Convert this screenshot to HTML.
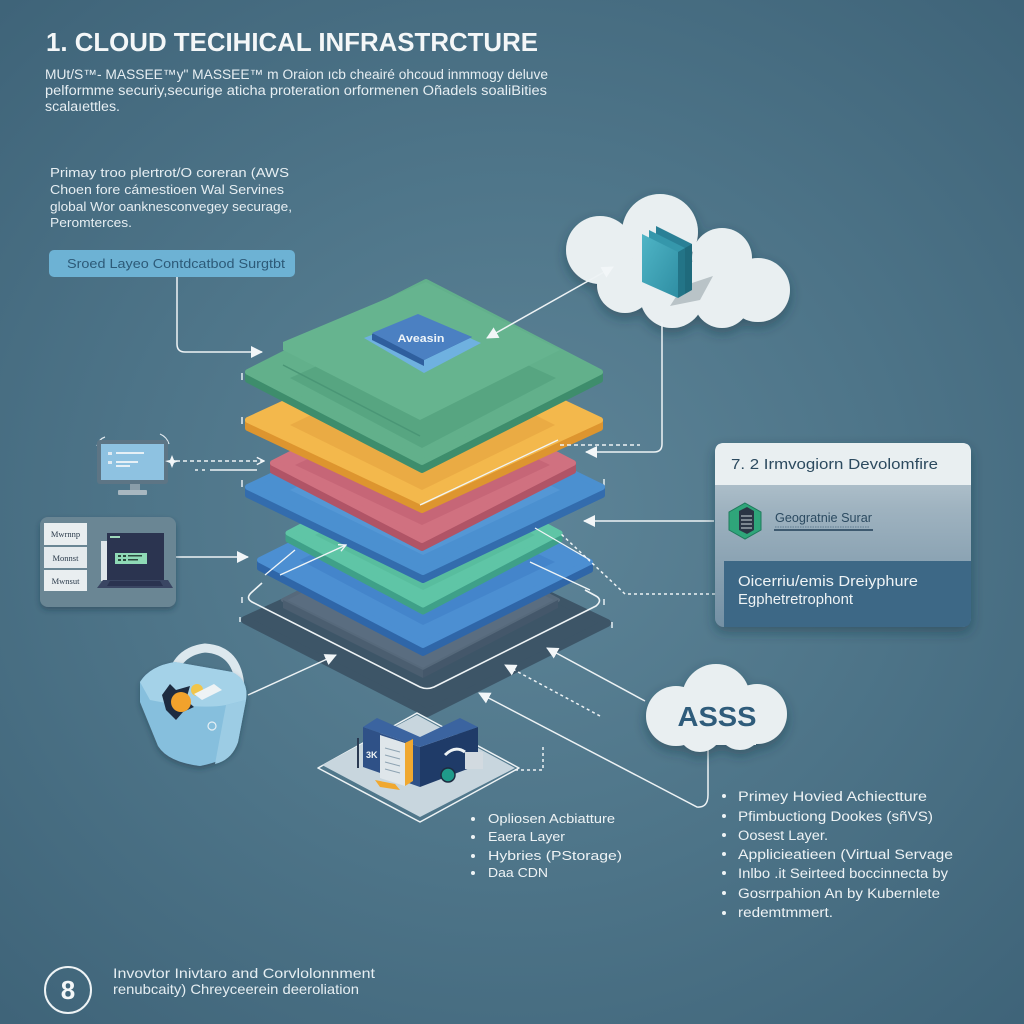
<!DOCTYPE html>
<html><head><meta charset="utf-8"><style>
html,body{margin:0;padding:0;}
body{width:1024px;height:1024px;overflow:hidden;background:radial-gradient(ellipse 72% 68% at 50% 50%,#5e8598 0%,#4e7589 50%,#3f6479 100%);font-family:"Liberation Sans",sans-serif;}
svg{position:absolute;left:0;top:0;}
</style></head><body>
<svg width="1024" height="1024" viewBox="0 0 1024 1024" xmlns="http://www.w3.org/2000/svg">
<defs>
<marker id="ah" viewBox="0 0 12 12" refX="11" refY="6" markerWidth="12" markerHeight="12" markerUnits="userSpaceOnUse" orient="auto-start-reverse"><path d="M0,0 L12,6 L0,12 z" fill="#f2f6f8"/></marker>
<marker id="ao" viewBox="0 0 10 10" refX="9" refY="5" markerWidth="9" markerHeight="9" markerUnits="userSpaceOnUse" orient="auto"><path d="M1,1 L9,5 L1,9" fill="none" stroke="#f2f6f8" stroke-width="1.5"/></marker>
<filter id="sh" x="-20%" y="-20%" width="140%" height="150%"><feDropShadow dx="0" dy="5" stdDeviation="6" flood-color="#1d3140" flood-opacity="0.45"/></filter>
<filter id="sh2" x="-20%" y="-20%" width="140%" height="150%"><feDropShadow dx="0" dy="3" stdDeviation="3" flood-color="#1d3140" flood-opacity="0.4"/></filter>
<linearGradient id="pmid" x1="0" y1="0" x2="0" y2="1"><stop offset="0" stop-color="#c3d1d9"/><stop offset="0.35" stop-color="#9fb3c0"/><stop offset="1" stop-color="#7390a4"/></linearGradient>
<linearGradient id="plate" x1="0" y1="0" x2="1" y2="1"><stop offset="0" stop-color="#4fb5c6"/><stop offset="1" stop-color="#2f8ea3"/></linearGradient>
</defs>

<!-- Title -->
<text x="46" y="51" font-size="26" font-weight="bold" fill="#f4f7f8" textLength="492" lengthAdjust="spacingAndGlyphs">1. CLOUD TECIHICAL INFRASTRCTURE</text>
<g fill="#e6eef2" font-size="13.5">
<text x="45" y="79" textLength="503" lengthAdjust="spacingAndGlyphs">MUt/S™- MASSEE™y" MASSEE™ m Oraion ıcb cheairé ohcoud inmmogy deluve</text>
<text x="45" y="95" textLength="502" lengthAdjust="spacingAndGlyphs">pelformme securiy,securige aticha proteration orformenen Oñadels soaliBities</text>
<text x="45" y="111" textLength="75" lengthAdjust="spacingAndGlyphs">scalaıettles.</text>
</g>
<g fill="#e6eef2" font-size="13">
<text x="50" y="177" textLength="239" lengthAdjust="spacingAndGlyphs">Primay troo plertrot/O coreran (AWS</text>
<text x="50" y="194" textLength="234" lengthAdjust="spacingAndGlyphs">Choen fore cámestioen Wal Servines</text>
<text x="50" y="211" textLength="242" lengthAdjust="spacingAndGlyphs">global Wor oanknesconvegey securage,</text>
<text x="50" y="227" textLength="82" lengthAdjust="spacingAndGlyphs">Peromterces.</text>
</g>
<rect x="49" y="250" width="246" height="27" rx="5" fill="#6db2d4"/>
<text x="67" y="268" font-size="13" fill="#2d5a78" textLength="218" lengthAdjust="spacingAndGlyphs">Sroed Layeo  Contdcatbod Surgtbt</text>
<path d="M177,277 V344 Q177,352 185,352 H262" fill="none" stroke="#eef3f5" stroke-width="1.5" marker-end="url(#ah)"/>

<!-- ticks -->
<g stroke="#e6eef2" stroke-width="1.5">
<line x1="242" y1="373" x2="242" y2="380"/><line x1="242" y1="417" x2="242" y2="424"/><line x1="242" y1="480" x2="242" y2="487"/>
<line x1="242" y1="597" x2="242" y2="603"/><line x1="240" y1="617" x2="240" y2="622"/>
<line x1="604" y1="479" x2="604" y2="486"/><line x1="604" y1="599" x2="604" y2="605"/><line x1="612" y1="622" x2="612" y2="628"/>
</g>

<!-- Stack -->
<g stroke-linejoin="round">
<polygon points="245,620 427,537 607,623 427,713" fill="#3d5567" stroke="#3d5567" stroke-width="8"/>
<polygon points="283,600 423,530 558,600 423,670" fill="#5a6d80" stroke="#56697b" stroke-width="4"/>
<polygon points="283,600 423,670 423,678 283,608" fill="#4b5e70"/>
<polygon points="423,670 558,600 558,608 423,678" fill="#44576a"/>
<path d="M262,583 L252,592 Q245,598 252,602 L420,687 Q427,690 434,687 L596,606 Q603,600 596,596 L585,590" fill="none" stroke="#eef3f5" stroke-width="1.6"/>

<polygon points="260,560 423,645 590,562 590,570 423,653 260,568" fill="#2f66a8" stroke="#2f66a8" stroke-width="6"/>
<polygon points="260,560 427,477 590,562 423,645" fill="#4c8fd2" stroke="#4c8fd2" stroke-width="6"/>
<polygon points="300,560 425,500 555,562 423,625" fill="#3f7ec6" opacity="0.6"/>
<polygon points="288,533 423,605 560,533 560,540 423,612 288,540" fill="#3fa088" stroke="#3fa088" stroke-width="5"/>
<polygon points="288,533 425,461 560,533 423,605" fill="#5fc5a6" stroke="#5fc5a6" stroke-width="5"/>
<polygon points="315,535 425,480 535,535 423,590" fill="#52b596" opacity="0.5"/>
<polygon points="248,487 423,572 602,487 602,495 423,580 248,495" fill="#336cad" stroke="#336cad" stroke-width="6"/>
<polygon points="248,487 427,402 602,487 423,572" fill="#4b90d0" stroke="#4b90d0" stroke-width="6"/>
<polygon points="290,490 425,425 560,490 423,555" fill="#5a9dd8" opacity="0.6"/>
<polygon points="273,463 422,540 573,463 573,471 422,548 273,471" fill="#b05466" stroke="#b05466" stroke-width="6"/>
<polygon points="273,463 424,386 573,463 422,540" fill="#d07180" stroke="#d07180" stroke-width="6"/>
<polygon points="295,465 424,405 550,465 422,525" fill="#bd5d6f" opacity="0.55"/>
<polygon points="248,420 422,502 600,420 600,428 422,510 248,428" fill="#dd952f" stroke="#dd952f" stroke-width="6"/>
<polygon points="248,420 426,338 600,420 422,502" fill="#f3b84c" stroke="#f3b84c" stroke-width="6"/>
<polygon points="290,425 426,360 555,425 422,490" fill="#e4a240" opacity="0.6"/>
<polygon points="248,372 422,462 600,372 600,380 422,470 248,380" fill="#3e8d6c" stroke="#3e8d6c" stroke-width="6"/>
<polygon points="248,372 426,282 600,372 422,462" fill="#62b08b" stroke="#62b08b" stroke-width="6"/>
<polygon points="290,378 424,318 556,378 422,448" fill="#4f9c7a" opacity="0.55"/>
<polygon points="283,342 426,282 560,350 420,420 283,350" fill="#66b48f"/>
<line x1="283" y1="365" x2="420" y2="436" stroke="#4a9676" stroke-width="1.5"/>
</g>
<g stroke="#f0f5f7" stroke-width="1.3" fill="none">
<line x1="420" y1="505" x2="558" y2="440"/>
<line x1="265" y1="575" x2="295" y2="550"/>
<line x1="280" y1="575" x2="346" y2="545" marker-end="url(#ao)"/>
<line x1="535" y1="528" x2="590" y2="560"/>
<line x1="530" y1="562" x2="590" y2="590"/>
</g>

<!-- chip -->
<polygon points="364,338 420,316 481,343 424,373" fill="#6fb1e0"/>
<polygon points="372,334 418,315 472,337 424,360 424,366 372,340" fill="#2f5f9e"/>
<polygon points="372,333 418,314 472,337 424,360" fill="#4b80c2"/>
<text x="421" y="342" font-size="11" font-weight="bold" fill="#eef4f8" text-anchor="middle" textLength="47" lengthAdjust="spacingAndGlyphs">Aveasin</text>

<!-- top cloud -->
<g filter="url(#sh)" fill="#e9eff1">
<circle cx="600" cy="250" r="34"/>
<circle cx="660" cy="232" r="38"/>
<circle cx="722" cy="258" r="30"/>
<circle cx="758" cy="290" r="32"/>
<circle cx="625" cy="285" r="28"/>
<circle cx="672" cy="296" r="32"/>
<circle cx="722" cy="300" r="28"/>
<rect x="615" y="262" width="140" height="45"/>
</g>
<polygon points="683,286 713,276 700,300 670,306" fill="#b9c3c7"/>
<polygon points="656,226 692,244 692,290 656,272" fill="#2a8096"/>
<polygon points="649,230 685,248 685,294 649,276" fill="#3597ab"/>
<polygon points="642,234 678,252 678,298 642,282" fill="url(#plate)"/>
<polygon points="678,252 685,248 685,294 678,298" fill="#237487"/>
<polygon points="685,248 692,244 692,290 685,294" fill="#1f6a7c"/>

<!-- connectors -->
<g stroke="#eef3f5" stroke-width="1.5" fill="none">
<line x1="487" y1="338" x2="613" y2="267" marker-start="url(#ah)" marker-end="url(#ah)"/>
<path d="M662,322 V444 Q662,452 654,452 H586" marker-end="url(#ah)"/>
<line x1="560" y1="445" x2="640" y2="445" stroke-dasharray="4,3"/>
<line x1="714" y1="521" x2="584" y2="521" marker-end="url(#ah)"/>
<path d="M715,594 H625 L560,533" stroke-dasharray="3,3"/>
<line x1="176" y1="461" x2="264" y2="461" stroke-dasharray="4,3" marker-end="url(#ao)"/>
<line x1="195" y1="470" x2="198" y2="470"/><line x1="202" y1="470" x2="205" y2="470"/>
<line x1="210" y1="470" x2="257" y2="470"/>
<line x1="176" y1="557" x2="248" y2="557" marker-end="url(#ah)"/>
<line x1="248" y1="695" x2="336" y2="655" marker-end="url(#ah)"/>
<line x1="645" y1="701" x2="547" y2="648" marker-end="url(#ah)"/>
<path d="M600,716 L505,665" stroke-dasharray="3,3" marker-end="url(#ah)"/>
<path d="M708,750 V795 Q708,808 697,807 L479,693" marker-end="url(#ah)"/>
<path d="M515,770 H543 V745" stroke-dasharray="3,3"/>
</g>

<!-- monitor -->
<g>
<path d="M105,437 Q99,439 97,446" stroke="#dfe8ee" stroke-width="1.2" fill="none"/>
<path d="M160,434 Q167,437 169,444" stroke="#dfe8ee" stroke-width="1.2" fill="none"/>
<rect x="97" y="440" width="71" height="44" rx="3" fill="#5d7585"/>
<rect x="101" y="444" width="63" height="36" fill="#8ec2e1"/>
<rect x="108" y="452" width="4" height="3" fill="#dfeaf2"/>
<rect x="116" y="452" width="28" height="2" fill="#e6f0f6"/>
<rect x="108" y="461" width="4" height="3" fill="#dfeaf2"/>
<rect x="116" y="461" width="22" height="2" fill="#e6f0f6"/>
<rect x="116" y="465" width="14" height="2" fill="#e6f0f6"/>
<rect x="130" y="484" width="10" height="7" fill="#8a9da9"/>
<rect x="118" y="490" width="29" height="5" rx="1" fill="#a8b7c0"/>
<path d="M172,455 L174,460 L179,461 L174,463 L172,468 L170,463 L165,461 L170,460 Z" fill="#f2f6f8"/>
</g>

<!-- laptop box -->
<g>
<rect x="40" y="517" width="136" height="90" rx="8" fill="#6b8694" filter="url(#sh2)"/>
<rect x="44" y="523" width="43" height="22" fill="#e9eef0"/>
<rect x="44" y="547" width="43" height="21" fill="#e4eaed"/>
<rect x="44" y="570" width="43" height="21" fill="#e9eef0"/>
<g font-size="8.5" fill="#2c3c4c" font-family="Liberation Serif,serif">
<text x="65.5" y="537" text-anchor="middle">Mwrnnp</text>
<text x="65.5" y="561" text-anchor="middle">Monnst</text>
<text x="65.5" y="584" text-anchor="middle">Mwnsut</text>
</g>
<rect x="101" y="541" width="6" height="40" fill="#dfe6ea"/>
<rect x="107" y="533" width="57" height="47" fill="#2b3450"/>
<rect x="110" y="536" width="10" height="2" fill="#9fd7bb"/>
<rect x="115" y="553" width="32" height="11" fill="#8fdab6"/>
<g fill="#2b4a3e"><rect x="118" y="555" width="3" height="2"/><rect x="123" y="555" width="3" height="2"/><rect x="128" y="555" width="14" height="1.5"/><rect x="118" y="559" width="3" height="2"/><rect x="123" y="559" width="3" height="2"/><rect x="128" y="559" width="10" height="1.5"/></g>
<polygon points="103,580 168,580 173,588 97,588" fill="#3a4663"/>
<polygon points="110,581 160,581 163,586 107,586" fill="#2a3350"/>
</g>

<!-- bucket -->
<g>
<path d="M170,690 Q172,652 205,648 Q238,650 240,688" stroke="#dce8ee" stroke-width="9" fill="none"/>
<path d="M140,682 Q150,666 175,662 L232,672 Q249,680 246,700 L238,742 Q232,760 200,766 Q168,762 158,746 L140,702 Z" fill="#86bfdd" filter="url(#sh2)"/>
<path d="M140,682 Q150,666 175,662 L232,672 Q249,680 246,700 L226,705 Q200,710 150,700 Z" fill="#a4d2e8"/>
<path d="M226,705 L246,700 L238,742 Q232,760 215,764 Z" fill="#9ccce4"/>
<polygon points="162,695 170,684 176,690 190,686 186,700 194,707 183,712 176,720 166,710" fill="#1d2b40"/>
<circle cx="181" cy="702" r="10" fill="#f1a22c"/>
<circle cx="197" cy="690" r="6" fill="#f1c54a"/>
<polygon points="194,694 214,684 222,690 202,700" fill="#eef3f5"/>
<circle cx="212" cy="726" r="4" fill="none" stroke="#e6f0f5" stroke-width="1.2"/>
</g>

<!-- building -->
<g>
<polygon points="318,768 417,713 519,768 420,822" fill="none" stroke="#eef3f5" stroke-width="1.5" stroke-linejoin="round"/>
<polygon points="322,765 417,715 515,768 420,817" fill="#c8d6de"/>
<polygon points="363,727 420,747 420,787 363,767" fill="#2f5187"/>
<polygon points="420,747 478,727 478,765 420,787" fill="#1f3b68"/>
<polygon points="363,727 377,718 420,737 460,718 478,727 420,747" fill="#3b64a0"/>
<line x1="358" y1="738" x2="358" y2="768" stroke="#2a3a52" stroke-width="2"/>
<text x="366" y="758" font-size="9" font-weight="bold" fill="#eef3f5">3K</text>
<polygon points="380,735 405,743 405,786 380,778" fill="#dfe6ea"/>
<polygon points="405,743 413,739 413,781 405,786" fill="#f0a830"/>
<g stroke="#8ea3b2" stroke-width="1"><line x1="385" y1="748" x2="400" y2="752"/><line x1="385" y1="755" x2="400" y2="759"/><line x1="385" y1="762" x2="400" y2="766"/><line x1="385" y1="769" x2="400" y2="773"/></g>
<polygon points="375,780 395,784 400,790 380,787" fill="#f0a830"/>
<path d="M445,755 Q455,745 465,752" stroke="#eef3f5" stroke-width="3" fill="none"/>
<rect x="465" y="752" width="18" height="17" fill="#d2dae0"/>
<circle cx="448" cy="775" r="7" fill="#1f9a8a" stroke="#1d2b40" stroke-width="1.5"/>
</g>

<!-- middle bullets -->
<g fill="#eef3f5" font-size="13">
<circle cx="473" cy="819" r="2"/><circle cx="473" cy="837" r="2"/><circle cx="473" cy="856" r="2"/><circle cx="473" cy="873" r="2"/>
<text x="488" y="823" textLength="127" lengthAdjust="spacingAndGlyphs">Opliosen Acbiatture</text>
<text x="488" y="841" textLength="77" lengthAdjust="spacingAndGlyphs">Eaera Layer</text>
<text x="488" y="860" textLength="134" lengthAdjust="spacingAndGlyphs">Hybries (PStorage)</text>
<text x="488" y="877" textLength="60" lengthAdjust="spacingAndGlyphs">Daa CDN</text>
</g>

<!-- right panel -->
<g filter="url(#sh)">
<rect x="715" y="443" width="256" height="184" rx="9" fill="url(#pmid)"/>
</g>
<path d="M715,485 V452 Q715,443 724,443 H962 Q971,443 971,452 V485 Z" fill="#e9eff1"/>
<path d="M724,561 H971 V618 Q971,627 962,627 H724 Z" fill="#3d6886"/>
<text x="731" y="469" font-size="15" fill="#2c4a5f" textLength="207" lengthAdjust="spacingAndGlyphs">7. 2 Irmvogiorn Devolomfire</text>
<polygon points="745,503 761,512 761,530 745,539 729,530 729,512" fill="#2fa57a" stroke="#1f7a5c" stroke-width="1"/>
<polygon points="739,511 747,507 754,511 754,530 747,534 739,530" fill="#2b3545"/>
<g stroke="#cdd6dc" stroke-width="1"><line x1="741" y1="516" x2="752" y2="516"/><line x1="741" y1="520" x2="752" y2="520"/><line x1="741" y1="524" x2="752" y2="524"/><line x1="741" y1="528" x2="752" y2="528"/></g>
<text x="775" y="522" font-size="12.5" fill="#2b4a60" textLength="97" lengthAdjust="spacingAndGlyphs">Geogratnie Surar</text>
<line x1="775" y1="527" x2="870" y2="527" stroke="#5d7a90" stroke-width="1" stroke-dasharray="1.5,1"/>
<line x1="774" y1="530" x2="873" y2="530" stroke="#213f58" stroke-width="1.5"/>
<text x="738" y="586" font-size="15" fill="#eef3f5" textLength="180" lengthAdjust="spacingAndGlyphs">Oicerriu/emis Dreiyphure</text>
<text x="738" y="604" font-size="15" fill="#eef3f5" textLength="115" lengthAdjust="spacingAndGlyphs">Egphetretrophont</text>

<!-- ASSS cloud -->
<g filter="url(#sh)" fill="#e9eff1">
<circle cx="676" cy="716" r="30"/>
<circle cx="716" cy="698" r="34"/>
<circle cx="757" cy="714" r="30"/>
<circle cx="700" cy="730" r="22"/>
<circle cx="740" cy="728" r="22"/>
<rect x="676" y="700" width="80" height="45"/>
</g>
<text x="717" y="726" font-size="28" font-weight="bold" fill="#2f5c7b" text-anchor="middle" textLength="79" lengthAdjust="spacingAndGlyphs">ASSS</text>

<!-- right bullets -->
<g fill="#eef3f5" font-size="13.5">
<circle cx="724" cy="796" r="2"/><circle cx="724" cy="816" r="2"/><circle cx="724" cy="835" r="2"/><circle cx="724" cy="854" r="2"/><circle cx="724" cy="873" r="2"/><circle cx="724" cy="893" r="2"/><circle cx="724" cy="913" r="2"/>
<text x="738" y="801" textLength="189" lengthAdjust="spacingAndGlyphs">Primey Hovied Achiectture</text>
<text x="738" y="821" textLength="195" lengthAdjust="spacingAndGlyphs">Pfimbuctiong Dookes (sñVS)</text>
<text x="738" y="840" textLength="90" lengthAdjust="spacingAndGlyphs">Oosest Layer.</text>
<text x="738" y="859" textLength="215" lengthAdjust="spacingAndGlyphs">Applicieatieen (Virtual Servage</text>
<text x="738" y="878" textLength="210" lengthAdjust="spacingAndGlyphs">Inlbo .it Seirteed boccinnecta by</text>
<text x="738" y="898" textLength="202" lengthAdjust="spacingAndGlyphs">Gosrrpahion An by Kubernlete</text>
<text x="738" y="917" textLength="95" lengthAdjust="spacingAndGlyphs">redemtmmert.</text>
</g>

<!-- bottom -->
<circle cx="68" cy="990" r="23" fill="none" stroke="#eef3f5" stroke-width="2"/>
<text x="68" y="999" font-size="26" font-weight="bold" fill="#f4f7f8" text-anchor="middle">8</text>
<g fill="#e6eef2" font-size="14">
<text x="113" y="978" textLength="262" lengthAdjust="spacingAndGlyphs">Invovtor Inivtaro and Corvlolonnment</text>
<text x="113" y="994" textLength="246" lengthAdjust="spacingAndGlyphs">renubcaity) Chreyceerein deeroliation</text>
</g>
</svg>
</body></html>
